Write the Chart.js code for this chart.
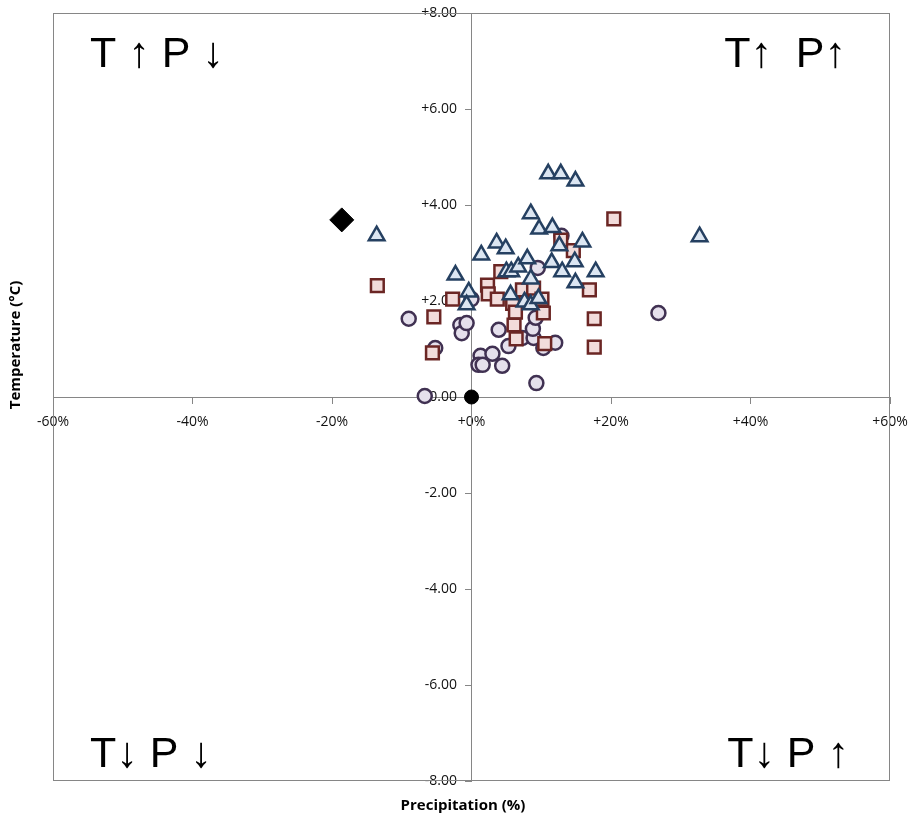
<!DOCTYPE html>
<html>
<head>
<meta charset="utf-8">
<script src="https://cdn.jsdelivr.net/npm/chart.js@4/dist/chart.umd.min.js"></script>
<style>
  body { margin: 0; background: #fff; }
  #wrap { width: 912px; height: 817px; position: relative; }
</style>
</head>
<body>
<div id="wrap"><canvas id="scatter"></canvas></div>
<script>
// precipitation change (%) , temperature change (°C)
const triangles = [
  [-13.6, 3.36], [-2.3, 2.54], [-0.4, 2.19], [-0.7, 1.92], [1.4, 2.96],
  [3.6, 3.21], [4.9, 3.09], [5.0, 2.61], [5.7, 2.61], [5.6, 2.13],
  [6.7, 2.71], [8.0, 2.88], [8.5, 3.82], [8.5, 2.46], [7.6, 1.98],
  [8.5, 1.92], [9.6, 2.05], [9.7, 3.50], [11.0, 4.65], [12.8, 4.65],
  [14.9, 4.50], [11.6, 3.53], [11.5, 2.80], [12.6, 3.15], [13.0, 2.61],
  [14.8, 2.82], [15.9, 3.23], [14.9, 2.38], [17.8, 2.61], [32.7, 3.34],
];
const squares = [
  [-13.5, 2.32], [-2.7, 2.04], [-5.4, 1.67], [-5.6, 0.92], [2.3, 2.33],
  [2.4, 2.15], [3.7, 2.04], [4.2, 2.61], [5.9, 1.95], [6.3, 1.77],
  [6.1, 1.50], [6.4, 1.21], [7.3, 2.23], [8.9, 2.27], [10.1, 2.04],
  [10.3, 1.75], [10.5, 1.11], [12.8, 3.27], [14.6, 3.05], [16.9, 2.23],
  [17.6, 1.63], [17.6, 1.04], [20.4, 3.71],
];
const circles = [
  [-9.0, 1.63], [-5.2, 1.02], [-6.7, 0.02], [-1.6, 1.50], [-1.4, 1.33],
  [-0.7, 1.54], [0.0, 2.04], [1.3, 0.86], [1.0, 0.67], [1.6, 0.67],
  [3.0, 0.90], [4.4, 0.65], [3.9, 1.40], [5.3, 1.06], [7.3, 1.23],
  [8.9, 1.23], [8.8, 1.42], [9.2, 1.65], [7.5, 2.17], [9.5, 2.69],
  [10.3, 1.02], [12.0, 1.13], [9.3, 0.29], [12.9, 3.36], [26.8, 1.75],
];
const diamond = [[-18.6, 3.69]];
const origin = [[0, 0]];

const quadrantLabels = ["T \u2191 P \u2193", "T\u2191  P\u2191", "T\u2193 P \u2193", "T\u2193 P \u2191"];
const xTitle = "Precipitation (%)";
const yTitle = "Temperature (°C)";

const toPoints = (arr) => arr.map(([x, y]) => ({ x, y }));
const lineGrey = "#868686";
const font = "'Open Sans', 'DejaVu Sans', sans-serif";

// box around plot, quadrant labels and axis titles
const decorations = {
  id: "decorations",
  beforeDatasetsDraw(chart) {
    const { ctx, chartArea: a } = chart;
    ctx.save();
    ctx.strokeStyle = lineGrey;
    ctx.lineWidth = 1;
    ctx.strokeRect(a.left + 0.5, a.top + 0.5, a.width - 1, a.height - 1);
    ctx.restore();
  },
  afterDraw(chart) {
    const { ctx, chartArea: a } = chart;
    ctx.save();
    ctx.fillStyle = "#000";
    ctx.font = "43px 'Liberation Sans', Arial, sans-serif";
    ctx.textBaseline = "alphabetic";
    ctx.textAlign = "left";
    ctx.fillText(quadrantLabels[0], a.left + 37, a.top + 54);
    ctx.fillText(quadrantLabels[2], a.left + 37, a.bottom - 14);
    ctx.textAlign = "right";
    ctx.fillText(quadrantLabels[1], a.right - 44, a.top + 54);
    ctx.fillText(quadrantLabels[3], a.right - 41, a.bottom - 14);

    ctx.font = "bold 15px " + font;
    ctx.textAlign = "center";
    ctx.textBaseline = "middle";
    ctx.fillText(xTitle, 463, a.bottom + 25);
    ctx.translate(16, 345);
    ctx.rotate(-Math.PI / 2);
    ctx.fillText(yTitle, 0, 0);
    ctx.restore();
  },
};

new Chart(document.getElementById("scatter"), {
  type: "scatter",
  data: {
    datasets: [
      {
        label: "observed",
        data: toPoints(diamond),
        pointStyle: "rectRot",
        pointRadius: 12,
        backgroundColor: "#000",
        borderColor: "#000",
        borderWidth: 1,
      },
      {
        label: "baseline",
        data: toPoints(origin),
        pointStyle: "circle",
        pointRadius: 7,
        backgroundColor: "#000",
        borderColor: "#000",
        borderWidth: 1,
      },
      {
        label: "triangles",
        data: toPoints(triangles),
        pointStyle: "triangle",
        pointRadius: 9,
        backgroundColor: "#dce6f2",
        borderColor: "#254061",
        borderWidth: 2.5,
      },
      {
        label: "squares",
        data: toPoints(squares),
        pointStyle: "rect",
        pointRadius: 9,
        backgroundColor: "#f2dcdb",
        borderColor: "#6b2624",
        borderWidth: 2.5,
      },
      {
        label: "circles",
        data: toPoints(circles),
        pointStyle: "circle",
        pointRadius: 7,
        backgroundColor: "#e5e0ec",
        borderColor: "#403152",
        borderWidth: 2.5,
      },
    ],
  },
  options: {
    responsive: true,
    maintainAspectRatio: false,
    animation: false,
    layout: { padding: { left: 53, right: 22, top: 10, bottom: 36 } },
    plugins: {
      legend: { display: false },
      tooltip: { enabled: false },
    },
    scales: {
      x: {
        type: "linear",
        min: -60,
        max: 60,
        position: { y: 0 },
        // let the end labels hang outside the plot box
        afterFit: (scale) => {
          scale.paddingLeft = 0;
          scale.paddingRight = 0;
        },
        grid: { drawOnChartArea: false, drawTicks: true, tickLength: 6, color: lineGrey },
        border: { display: true, color: lineGrey },
        ticks: {
          stepSize: 20,
          padding: 11,
          color: "#111",
          font: { family: font, size: 14 },
          callback: (v) => (v >= 0 ? "+" : "") + v + "%",
        },
      },
      y: {
        type: "linear",
        min: -8,
        max: 8,
        position: { x: 0 },
        grid: { drawOnChartArea: false, drawTicks: true, tickLength: 6, color: lineGrey },
        border: { display: true, color: lineGrey },
        ticks: {
          stepSize: 2,
          color: "#111",
          font: { family: font, size: 14 },
          // labels sit right against an axis placed by value, so pad with spaces
          callback: (v) => (v >= 0 ? "+" : "") + v.toFixed(2) + "    ",
        },
      },
    },
  },
  plugins: [decorations],
});
</script>
</body>
</html>
